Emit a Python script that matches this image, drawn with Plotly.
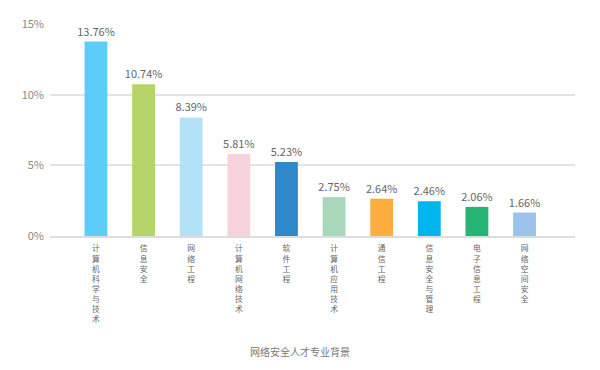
import plotly.graph_objects as go

categories = ["计算机科学与技术", "信息安全", "网络工程", "计算机网络技术", "软件工程",
              "计算机应用技术", "通信工程", "信息安全与管理", "电子信息工程", "网络空间安全"]
values = [13.76, 10.74, 8.39, 5.81, 5.23, 2.75, 2.64, 2.46, 2.06, 1.66]
colors = ["#5bcdf8", "#b5d56a", "#b3e2f8", "#f9d3dc", "#2e88c9",
          "#a8d8b9", "#fbae3d", "#00b6ec", "#27b574", "#9cc3e9"]
y_ticks = [0, 5, 10, 15]
y_ticklabels = ["0%", "5%", "10%", "15%"]
title_text = "网络安全人才专业背景"

FONT = "Noto Sans CJK SC, Noto Sans, sans-serif"

fig = go.Figure(go.Bar(
    x=categories, y=values,
    marker=dict(color=colors, line=dict(width=0)),
    width=0.48,
    text=[f"{v:.2f}%" for v in values],
    textposition="outside",
    constraintext="none",
    cliponaxis=False,
    textfont=dict(size=11, color="#666666", family=FONT),
))

fig.update_layout(
    width=592, height=362,
    margin=dict(l=42, r=25, t=16, b=134, autoexpand=False),
    paper_bgcolor="white", plot_bgcolor="white",
    showlegend=False,
    font=dict(family=FONT, color="#666666"),
    uniformtext=dict(mode=False),
    xaxis=dict(
        automargin=False,
        tickmode="array",
        tickvals=categories,
        ticktext=["<br>".join(list(c)) for c in categories],
        tickangle=0,
        tickfont=dict(size=7.8, color="#666666"),
        ticklabelstandoff=4,
        range=[-0.966, 10.06],
        showline=True, linecolor="#dddddd", linewidth=2,
        ticks="", showgrid=False,
    ),
    yaxis=dict(
        automargin=False,
        range=[0, 15],
        tickvals=y_ticks, ticktext=y_ticklabels,
        tickfont=dict(size=11, color="#888888"),
        showgrid=True, gridcolor="#e3e3e3", gridwidth=1.5,
        zeroline=False, showline=False, ticks="",
        ticklabelstandoff=5,
    ),
    annotations=[dict(
        text=title_text, xref="paper", yref="paper",
        x=0.476, y=-0.547, yanchor="middle", showarrow=False,
        font=dict(size=10, color="#777777", family=FONT),
    )],
)

fig.write_html("out.html")
